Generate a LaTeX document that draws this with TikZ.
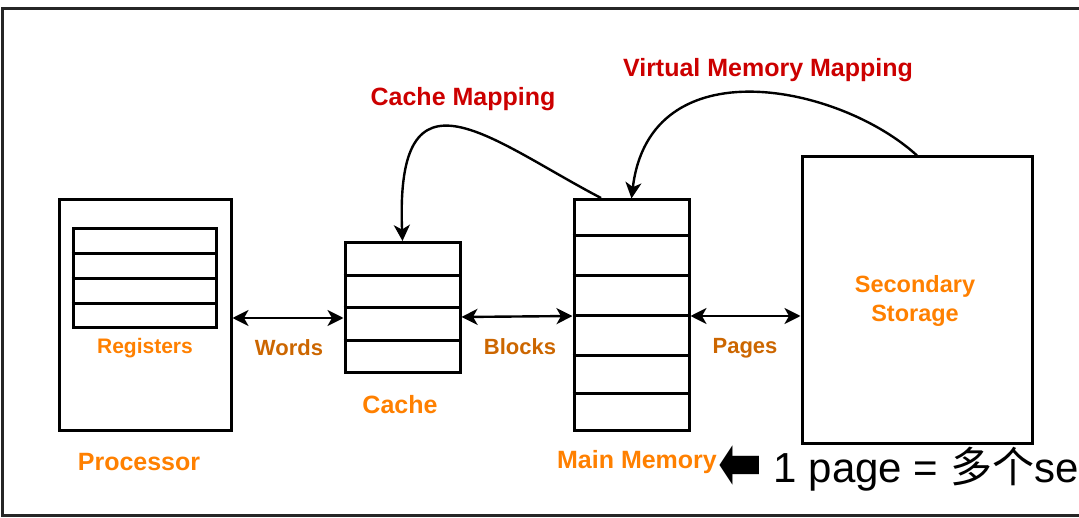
\documentclass[tikz,border=0pt]{standalone}
\usepackage{fontspec}
\usepackage{xcolor}
\setmainfont{Liberation Sans}
\newfontfamily\cjk{Noto Sans CJK SC}
\newfontfamily\symfont{DejaVu Sans}
\usetikzlibrary{arrows.meta}
\definecolor{lblorange}{HTML}{FF8000}
\definecolor{linkorange}{HTML}{CC6600}
\definecolor{mapred}{HTML}{CC0000}
\newcommand{\fsz}[1]{\fontsize{#1}{#1}\selectfont}

\begin{document}
\begin{tikzpicture}[x=1pt, y=-1pt,
  every node/.style={font=\bfseries},
  box/.style={draw=black, line width=3pt, inner sep=0pt},
  link/.style={{Stealth[length=16pt,width=16pt,inset=4.5pt]}-{Stealth[length=16pt,width=16pt,inset=4.5pt]}, line width=2.4pt},
  map/.style={-{Stealth[length=16pt,width=16pt,inset=4.5pt]}, line width=2.4pt},
  unit/.style={text=lblorange, font=\bfseries\fsz{25}},
  xfer/.style={text=linkorange, font=\bfseries\fsz{22}}]
\useasboundingbox (0,0) rectangle (1079,518);
% frame
\draw[line width=3pt, black!85] (2,9) rectangle (1095,515);
% Processor
\node[box, minimum width=172pt, minimum height=230pt] (proc) at (145,315) {};
\node[box, minimum width=143pt, minimum height=99pt] (regs) at (144.5,278.5) {};
\foreach \y in {254,279,304} \draw[line width=3pt] (regs.west |- 0,\y) -- (regs.east |- 0,\y);
\node[text=lblorange, font=\bfseries\fsz{21}] (reglbl) at (145,348) {Registers};
\node[unit] (proclbl) at (139,462) {Processor};
% Cache
\node[box, minimum width=115pt, minimum height=130pt] (cache) at (402.5,307.5) {};
\foreach \y in {276,308,341} \draw[line width=3pt] (cache.west |- 0,\y) -- (cache.east |- 0,\y);
\node[unit] (cachelbl) at (400,405) {Cache};
% Main memory
\node[box, minimum width=115pt, minimum height=230pt] (mem) at (631.5,315) {};
\foreach \y in {236,276,316,356,394} \draw[line width=3pt] (mem.west |- 0,\y) -- (mem.east |- 0,\y);
\node[unit] (memlbl) at (637,462) {Main Memory};
% Secondary storage
\node[box, minimum width=230pt, minimum height=286pt] (sec) at (917,300) {};
\node[text=lblorange, font=\bfseries\fsz{23.5}, align=center] (seclbl) at (915,301) {Secondary\\[6pt]Storage};
% transfers
\draw[link] (proc.east |- 0,318) -- (cache.west |- 0,318);
\draw[link] (cache.east |- 0,317) -- (mem.west |- 0,316);
\draw[link] (mem.east |- 0,316) -- (sec.west |- 0,316);
\node[xfer] (words) at (289,348) {Words};
\node[xfer] (blocks) at (520,347) {Blocks};
\node[xfer] (pages) at (745,348) {Pages};
% mappings
\coordinate (cmstart) at (601,198);
\draw[map] (cmstart) .. controls (490,140) and (395,55) .. (cache.north);
\draw[map] (sec.north) .. controls (840,85) and (650,45) .. (mem.north);
\node[text=mapred, font=\bfseries\fsz{25}] (cmlbl) at (463,99) {Cache Mapping};
\node[text=mapred, font=\bfseries\fsz{25}] (vmlbl) at (768,70) {Virtual Memory Mapping};
% note
\node[anchor=base west, inner sep=0pt, font=\fsz{42}] (note) at (718,482) {{\symfont\raisebox{-9pt}{\scalebox{1.25}[1.9]{⬅}}} 1 page = {\cjk 多个}se};
\end{tikzpicture}
\end{document}
